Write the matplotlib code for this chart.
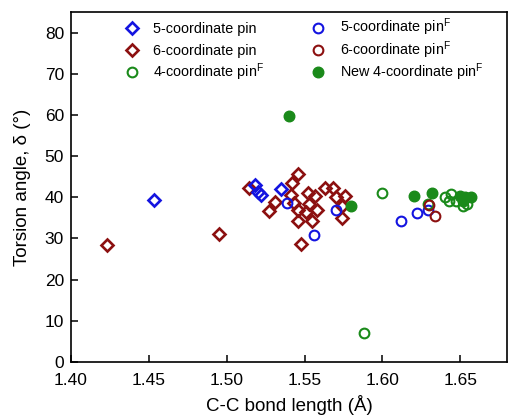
import matplotlib
matplotlib.use("Agg")
import matplotlib.pyplot as plt
from matplotlib.lines import Line2D

plt.rcParams['font.family'] = ['Liberation Sans', 'DejaVu Sans']
plt.rcParams['mathtext.fontset'] = 'custom'
plt.rcParams['mathtext.rm'] = 'Liberation Sans'
plt.rcParams['mathtext.it'] = 'Liberation Sans'

# C-C bond length (Å) and torsion angle (°) for each group
pin5_x = [1.453, 1.518, 1.520, 1.522, 1.535]
pin5_y = [39.4, 43.0, 41.3, 40.6, 41.9]

pin6_x = [1.423, 1.495, 1.514, 1.527, 1.531, 1.542, 1.546, 1.541, 1.543, 1.546,
          1.546, 1.552, 1.553, 1.551, 1.555, 1.557, 1.558, 1.548, 1.563, 1.568,
          1.570, 1.576, 1.574, 1.574]
pin6_y = [28.4, 31.1, 42.3, 36.6, 38.8, 43.5, 45.7, 40.5, 38.6, 36.8,
          34.2, 41.0, 38.4, 36.4, 34.2, 40.4, 37.0, 28.6, 42.3, 42.3,
          40.0, 40.4, 35.0, 38.0]

pin4F_x = [1.588, 1.600, 1.629, 1.640, 1.644, 1.643, 1.647, 1.652, 1.654]
pin4F_y = [7.0, 41.1, 38.4, 40.0, 40.8, 39.1, 39.2, 38.0, 38.4]

pin5F_x = [1.539, 1.556, 1.570, 1.612, 1.622, 1.629]
pin5F_y = [38.7, 30.8, 36.8, 34.2, 36.2, 36.8]

pin6F_x = [1.630, 1.634]
pin6F_y = [38.2, 35.4]

new4F_x = [1.540, 1.580, 1.620, 1.632, 1.650, 1.653, 1.657, 1.652]
new4F_y = [59.8, 37.8, 40.4, 41.1, 40.4, 40.0, 40.0, 39.0]

BLUE = '#1414e0'
RED = '#8c1010'
GREEN = '#1a8a1a'

W, H = 508, 416
fig = plt.figure(figsize=(W / 100, H / 100), dpi=100)
ax = fig.add_axes([71 / W, 54 / H, 436 / W, 350 / H])

dia = dict(marker='D', ms=5.8, mew=1.9, mfc='none', ls='none')
circ = dict(marker='o', ms=7.0, mew=1.5, mfc='none', ls='none')
dot = dict(marker='o', ms=7.6, mew=1.0, ls='none')

ax.plot(pin6_x, pin6_y, mec=RED, **dia)
ax.plot(pin5_x, pin5_y, mec=BLUE, **dia)
ax.plot(pin5F_x, pin5F_y, mec=BLUE, **circ)
ax.plot(pin4F_x, pin4F_y, mec=GREEN, **circ)
ax.plot(pin6F_x, pin6F_y, mec=RED, **circ)
ax.plot(new4F_x, new4F_y, mec=GREEN, mfc=GREEN, **dot)

ax.set_xlim(1.40, 1.68)
ax.set_ylim(0, 85)
ax.set_xticks([1.40, 1.45, 1.50, 1.55, 1.60, 1.65])
ax.set_xticklabels(['1.40', '1.45', '1.50', '1.55', '1.60', '1.65'])
ax.set_yticks([0, 10, 20, 30, 40, 50, 60, 70, 80])

ax.tick_params(direction='in', length=5, width=1.1, labelsize=12.5,
               top=False, right=False)
ax.tick_params(axis='x', pad=8)
ax.tick_params(axis='y', pad=5)
for s in ax.spines.values():
    s.set_linewidth(1.2)

ax.set_xlabel('C-C bond length (Å)', fontsize=13.5, labelpad=5)
ax.set_ylabel('Torsion angle, δ (°)', fontsize=13.5, labelpad=10)

# Two-column key in the upper part of the plot area
sup = r'$^{\mathrm{F}}$'
key = [
    (131.7, 27.5, dict(mec=BLUE, **dia), '5-coordinate pin'),
    (131.7, 50.0, dict(mec=RED, **dia), '6-coordinate pin'),
    (131.7, 72.0, dict(mec=GREEN, **circ), '4-coordinate pin' + sup),
    (318.0, 27.5, dict(mec=BLUE, **circ), '5-coordinate pin' + sup),
    (318.0, 50.0, dict(mec=RED, **circ), '6-coordinate pin' + sup),
    (318.0, 72.0, dict(mec=GREEN, mfc=GREEN, **dot), 'New 4-coordinate pin' + sup),
]
for mx, my, style, label in key:
    fig.add_artist(Line2D([mx / W], [1 - my / H], transform=fig.transFigure, **style))
    fig.text((mx + 21.5) / W, 1 - (my + 5) / H, label, fontsize=10.4,
             ha='left', va='baseline')

fig.savefig('out.png', dpi=100)
